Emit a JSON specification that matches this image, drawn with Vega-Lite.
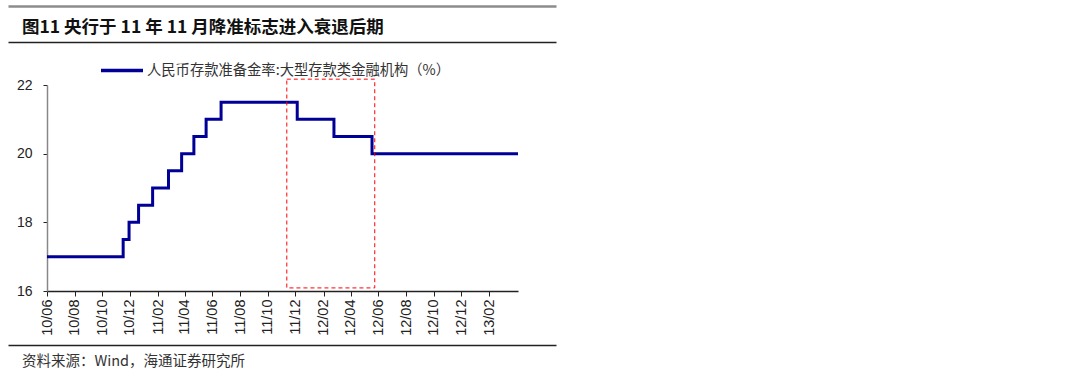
{
  "$schema": "https://vega.github.io/schema/vega-lite/v6.json",
  "padding": {"left": 8, "top": 6, "right": 5, "bottom": 0},
  "background": "white",
  "spacing": 3,
  "resolve": {"scale": {"color": "independent"}, "legend": {"color": "independent"}},
  "config": {"view": {"stroke": null}, "font": "Liberation Sans"},
  "vconcat": [
    {
      "width": 471,
      "height": 36,
      "data": {"values": [{"title": "图11 央行于 11 年 11 月降准标志进入衰退后期", "pos": 0, "mid": 0.4}]},
      "layer": [
        {
          "mark": {"type": "text", "align": "left", "baseline": "middle", "dx": 14, "font": "Noto Sans CJK SC", "fontSize": 17.5, "fontWeight": "bold", "color": "#111111"},
          "encoding": {
            "text": {"field": "title"},
            "x": {"field": "pos", "type": "quantitative", "scale": {"domain": [0, 1], "range": [-39, 509]},
                  "axis": {"orient": "top", "domainColor": "#8c8c8c", "domainWidth": 2.5, "ticks": false, "labels": false, "grid": false, "title": null}},
            "y": {"field": "mid", "type": "quantitative", "scale": {"domain": [0, 1]}, "axis": null}
          }
        },
        {
          "mark": {"type": "text"},
          "encoding": {
            "text": {"value": ""},
            "x": {"field": "pos", "type": "quantitative",
                  "axis": {"orient": "bottom", "domainColor": "#222222", "domainWidth": 1.5, "ticks": false, "labels": false, "grid": false, "title": null}},
            "y": {"field": "mid", "type": "quantitative", "axis": null}
          }
        }
      ],
      "resolve": {"axis": {"x": "independent"}}
    },
    {
      "width": 471,
      "height": 206,
      "layer": [
        {
          "data": {"values": [
            {"date": "2010-06-01T00:00:00", "rate": 17.0},
            {"date": "2010-11-16T00:00:00", "rate": 17.5},
            {"date": "2010-11-29T00:00:00", "rate": 18.0},
            {"date": "2010-12-20T00:00:00", "rate": 18.5},
            {"date": "2011-01-20T00:00:00", "rate": 19.0},
            {"date": "2011-02-24T00:00:00", "rate": 19.5},
            {"date": "2011-03-25T00:00:00", "rate": 20.0},
            {"date": "2011-04-21T00:00:00", "rate": 20.5},
            {"date": "2011-05-18T00:00:00", "rate": 21.0},
            {"date": "2011-06-20T00:00:00", "rate": 21.5},
            {"date": "2011-12-05T00:00:00", "rate": 21.0},
            {"date": "2012-02-24T00:00:00", "rate": 20.5},
            {"date": "2012-05-18T00:00:00", "rate": 20.0},
            {"date": "2013-04-05T00:00:00", "rate": 20.0}
          ]},
          "mark": {"type": "line", "interpolate": "step-after", "strokeWidth": 3},
          "encoding": {
            "x": {"field": "date", "type": "temporal",
                  "scale": {"domain": [{"year": 2010, "month": 6, "date": 1}, {"year": 2013, "month": 4, "date": 5}]},
                  "axis": {
                    "values": [
                      {"year": 2010, "month": 6, "date": 1}, {"year": 2010, "month": 8, "date": 1}, {"year": 2010, "month": 10, "date": 1}, {"year": 2010, "month": 12, "date": 1},
                      {"year": 2011, "month": 2, "date": 1}, {"year": 2011, "month": 4, "date": 1}, {"year": 2011, "month": 6, "date": 1}, {"year": 2011, "month": 8, "date": 1}, {"year": 2011, "month": 10, "date": 1}, {"year": 2011, "month": 12, "date": 1},
                      {"year": 2012, "month": 2, "date": 1}, {"year": 2012, "month": 4, "date": 1}, {"year": 2012, "month": 6, "date": 1}, {"year": 2012, "month": 8, "date": 1}, {"year": 2012, "month": 10, "date": 1}, {"year": 2012, "month": 12, "date": 1},
                      {"year": 2013, "month": 2, "date": 1}
                    ],
                    "tickCount": 40,
                    "format": "%y/%m", "labelAngle": -90, "labelFontSize": 14.5, "labelColor": "#222222", "labelFont": "Liberation Sans",
                    "domainColor": "#222222", "domainWidth": 1.5, "tickColor": "#222222", "tickSize": 5, "labelPadding": 3,
                    "grid": false, "title": null, "minExtent": 51, "labelOverlap": false, "labelFlush": false
                  }},
            "y": {"field": "rate", "type": "quantitative",
                  "scale": {"domain": [16, 22], "nice": false, "zero": false},
                  "axis": {"values": [16, 18, 20, 22], "domainColor": "#888888", "domainWidth": 1.5, "tickColor": "#222222", "tickSize": 4,
                           "labelPadding": 11, "labelFontSize": 14, "labelColor": "#222222", "labelFont": "Liberation Sans",
                           "grid": false, "title": null, "minExtent": 39}},
            "color": {"datum": "人民币存款准备金率:大型存款类金融机构（%）", "type": "nominal",
                      "scale": {"range": ["#000096"]},
                      "legend": {"orient": "none", "legendX": 50, "legendY": -39.5, "direction": "horizontal", "title": null,
                                 "symbolType": "stroke", "symbolStrokeWidth": 3.5, "symbolSize": 1764,
                                 "labelFont": "Noto Sans CJK SC", "labelFontSize": 14.3, "labelColor": "#333333",
                                 "padding": 2, "labelOffset": 2, "labelLimit": 500}}
          }
        },
        {
          "data": {"values": [{"start": "2011-11-12T00:00:00", "end": "2012-05-24T00:00:00", "low": 16.09, "high": 22.17}]},
          "mark": {"type": "rect", "filled": false, "stroke": "#ff0000", "strokeWidth": 1, "strokeDash": [4, 3], "clip": false},
          "encoding": {
            "x": {"field": "start", "type": "temporal"},
            "x2": {"field": "end"},
            "y": {"field": "low", "type": "quantitative"},
            "y2": {"field": "high"}
          }
        }
      ]
    },
    {
      "width": 471,
      "height": 28,
      "data": {"values": [{"src": "资料来源：Wind，海通证券研究所", "pos": 0, "mid": 0.4}]},
      "mark": {"type": "text", "align": "left", "baseline": "middle", "dx": 14, "font": "Noto Sans CJK SC", "fontSize": 14.5, "color": "#333333"},
      "encoding": {
        "text": {"field": "src"},
        "x": {"field": "pos", "type": "quantitative", "scale": {"domain": [0, 1], "range": [-39, 509]},
              "axis": {"orient": "top", "domainColor": "#222222", "domainWidth": 1.5, "ticks": false, "labels": false, "grid": false, "title": null}},
        "y": {"field": "mid", "type": "quantitative", "scale": {"domain": [0, 1]}, "axis": null}
      }
    }
  ]
}
